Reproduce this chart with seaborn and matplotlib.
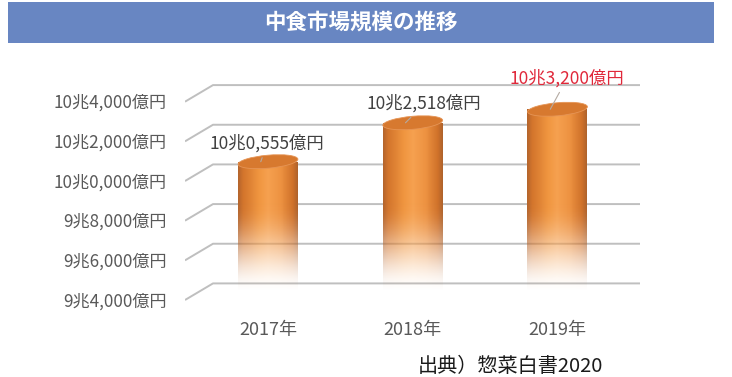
import numpy as np
import matplotlib
matplotlib.use("Agg")
import matplotlib.pyplot as plt
import matplotlib.transforms as mtransforms
from matplotlib.patches import Ellipse, Rectangle
from matplotlib.colors import LinearSegmentedColormap
import seaborn as sns

# ---- data ----
years = ["2017年", "2018年", "2019年"]
values = [100555, 102518, 103200]          # 億円
value_labels = ["10兆0,555億円", "10兆2,518億円", "10兆3,200億円"]
yticks = [94000, 96000, 98000, 100000, 102000, 104000]
ytick_labels = ["9兆4,000億円", "9兆6,000億円", "9兆8,000億円",
                "10兆0,000億円", "10兆2,000億円", "10兆4,000億円"]
title = "中食市場規模の推移"
source = "出典）惣菜白書2020"

sns.set_theme(style="white")
plt.rcParams["font.family"] = ["Noto Sans CJK JP", "DejaVu Sans"]

W, H, DPI = 732, 377, 100
fig = plt.figure(figsize=(W / DPI, H / DPI), dpi=DPI)

# banner
fig.patches.append(Rectangle((8 / W, 1 - 43 / H), 706 / W, 41 / H,
                             transform=fig.transFigure, facecolor="#6886c2",
                             edgecolor="none", zorder=0))
fig.text(361 / W, 1 - 22.5 / H, title, color="white", fontsize=15.5,
         fontweight="bold", ha="center", va="center")

# axes (front plane of the 3D-style chart)
ax = fig.add_axes([185 / W, 57 / H, 455 / W, 265 / H])
ax.set_facecolor("none")

PX_X = 144.75          # pixels per category unit
PX_Y = 19.83 / 1000    # pixels per 億円
XL = (-0.5734, 2.570)
YL = (92573, 105936)

sns.barplot(x=years, y=values, ax=ax, width=60 / PX_X, color="#f09a48",
            saturation=1, zorder=3)
bars = list(ax.patches)
ax.set_xlim(*XL)
ax.set_ylim(*YL)

# depth offsets (3D look)
dy = 8.3 / PX_Y
dx = 28 / PX_X
for t in yticks:
    ax.plot([XL[0], XL[0] + dx, XL[1]], [t - dy, t + dy, t + dy],
            color="#bfbfbf", lw=1.4, zorder=1, solid_capstyle="butt")

# cylinder gradient
cmap = LinearSegmentedColormap.from_list("cyl", [
    (0.0, "#b5652c"), (0.08, "#d3752c"), (0.35, "#f09640"),
    (0.5, "#f6a150"), (0.72, "#ed9241"), (0.92, "#d0722a"), (1.0, "#b0632c")])
ncol, nrow = 64, 256
fade_lo, fade_hi = 93900, 98400
for i, bar in enumerate(bars):
    x0 = bar.get_x()
    w = bar.get_width()
    top = bar.get_height()
    bot = YL[0]
    cols = cmap(np.linspace(0, 1, ncol))[:, :3]
    ys = np.linspace(bot, top, nrow)
    a = np.clip((ys - fade_lo) / (fade_hi - fade_lo), 0, 1)
    a = a * a * (3 - 2 * a)
    img = np.zeros((nrow, ncol, 4))
    img[:, :, :3] = cols[None, :, :]
    img[:, :, 3] = a[:, None]
    bar.set_facecolor("none")
    bar.set_edgecolor("none")
    im = ax.imshow(img, extent=[x0, x0 + w, bot, top], origin="lower",
                   aspect="auto", zorder=3, interpolation="bilinear")
    im.set_clip_path(bar)
    # top ellipse
    xc = x0 + w / 2
    trans = fig.dpi_scale_trans + mtransforms.ScaledTranslation(xc, top, ax.transData)
    ax.add_patch(Ellipse((0, 0), w * PX_X / DPI, 13 / DPI, angle=5,
                         transform=trans, facecolor="#d7792f",
                         edgecolor="#e69556", lw=0.6, zorder=4))

ax.set_xlim(*XL)
ax.set_ylim(*YL)

# value labels with leader lines
offsets = [(4.5, 12.8), (13.5, 13.6), (12.0, 22.0)]
colors = ["#404040", "#404040", "#e0283a"]
for i, (v, lab) in enumerate(zip(values, value_labels)):
    ax.annotate(lab, xy=(i - 0.05, v), xytext=offsets[i], textcoords="offset points",
                ha="center", va="center", fontsize=12.5, color=colors[i], zorder=6,
                arrowprops=dict(arrowstyle="-", color="#b4aaa2", lw=0.8,
                                shrinkA=1, shrinkB=0))

# ticks: labels sit on the front plane of each gridline
front = 7.5 / PX_Y
ax.set_yticks([t - front for t in yticks])
ax.set_yticklabels(ytick_labels, fontsize=12.3, color="#595959")
ax.tick_params(axis="y", length=0, pad=13)
ax.tick_params(axis="x", length=0, pad=1, labelsize=13, labelcolor="#595959")
ax.set_ylim(*YL)
ax.set_xlabel("")
ax.set_ylabel("")
for s in ax.spines.values():
    s.set_visible(False)
ax.grid(False)

fig.text(418 / W, 1 - 367 / H, source, fontsize=14.5, color="#1a1a1a",
         ha="left", va="center")

fig.savefig("out.png", dpi=DPI)
